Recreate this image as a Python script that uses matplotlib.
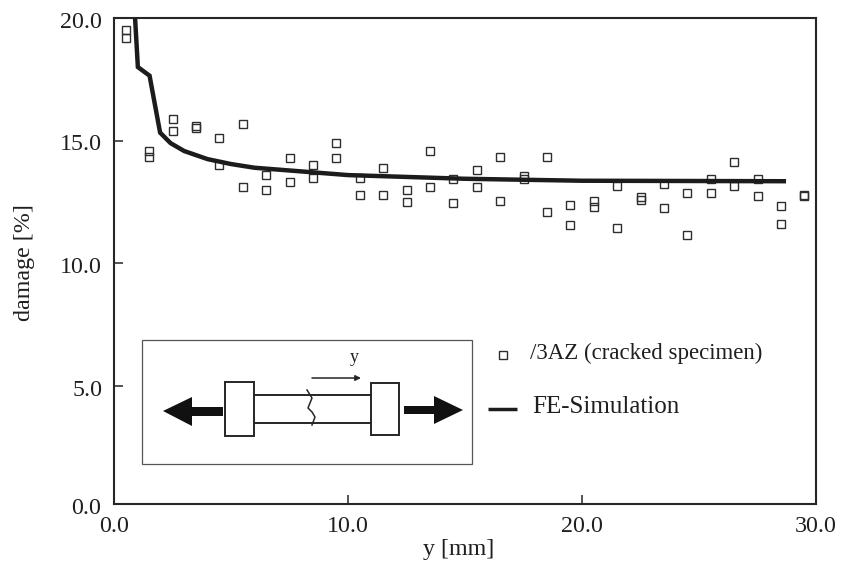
import matplotlib
matplotlib.use('Agg')
import matplotlib.pyplot as plt
from matplotlib.patches import Rectangle, Polygon
from matplotlib.transforms import ScaledTranslation

plt.rcParams['font.family'] = ['Liberation Serif', 'DejaVu Serif']

point_x = [0.5, 0.5, 1.5, 1.5, 2.5, 2.5, 3.5, 3.5, 4.5, 4.5, 5.5, 5.5, 6.5, 6.5, 7.5, 7.5, 8.5, 8.5, 9.5, 9.5,
           10.5, 10.5, 11.5, 11.5, 12.5, 12.5, 13.5, 13.5, 14.5, 14.5, 15.5, 15.5, 16.5, 16.5, 17.5, 17.5,
           18.5, 18.5, 19.5, 19.5, 20.5, 20.5, 21.5, 21.5, 22.5, 22.5, 23.5, 23.5, 24.5, 24.5, 25.5, 25.5,
           26.5, 26.5, 27.5, 27.5, 28.5, 28.5, 29.5, 29.5]
point_y = [19.5, 19.2, 14.6, 14.35, 15.9, 15.4, 15.6, 15.5, 15.1, 14.0, 15.7, 13.1, 13.6, 13.0, 14.3, 13.3, 14.0, 13.5, 14.9, 14.3,
           13.5, 12.8, 13.9, 12.8, 13.0, 12.5, 14.6, 13.1, 13.45, 12.45, 13.8, 13.1, 14.35, 12.55, 13.55, 13.45,
           14.35, 12.1, 12.4, 11.55, 12.55, 12.3, 13.15, 11.45, 12.7, 12.6, 13.25, 12.25, 12.85, 11.15, 13.45, 12.85,
           14.15, 13.15, 13.45, 12.75, 12.35, 11.6, 12.8, 12.75]
sim_x = [0.9, 1.02, 1.52, 1.97, 2.42, 3.0, 4.0, 5.0, 6.0, 8.0, 10.0, 15.0, 20.0, 28.72]
sim_y = [20.0, 18.0, 17.65, 15.33, 14.9, 14.58, 14.25, 14.05, 13.9, 13.75, 13.6, 13.45, 13.37, 13.35]
ticks_x = [0, 10, 20, 30]
ticks_y = [5, 10, 15, 20]

W, H = 842, 562
L, R, T, B = 114, 816, 18, 504
fig = plt.figure(figsize=(W / 100, H / 100), dpi=100)
ax = fig.add_axes([L / W, 1 - B / H, (R - L) / W, (B - T) / H])
ax.set_xlim(0, 30)
ax.set_ylim(0.2, 20)
ink = '#262626'
txt = '#1f1f1f'
ax.plot(sim_x, sim_y, color='#1c1c1c', lw=3.2, solid_joinstyle='miter', solid_capstyle='butt', zorder=3)
ax.plot(point_x, point_y, ls='none', marker='s', ms=6.2, mfc='none', mec='#2e2e2e', mew=1.0, zorder=2)
ax.set_xticks(ticks_x, [f'{t:.1f}' for t in ticks_x])
ax.set_yticks(ticks_y, [f'{t:.1f}' for t in ticks_y])
ax.tick_params(axis='both', direction='in', length=6.5, width=1.1, color=ink, labelsize=17.3, labelcolor=txt)
ax.tick_params(axis='x', pad=9)
ax.tick_params(axis='y', pad=8.5)
for lab in ax.get_yticklabels():
    lab.set_transform(lab.get_transform() + ScaledTranslation(0, -1.5 / 100, fig.dpi_scale_trans))
for s in ax.spines.values():
    s.set_linewidth(1.5)
    s.set_color(ink)
ax.set_xlabel('y [mm]', fontsize=17.3, color=txt)
ax.xaxis.set_label_coords((459 - L) / (R - L), (B - 539) / (B - T))
ax.set_ylabel('damage [%]', fontsize=17.3, color=txt)
ax.yaxis.set_label_coords((35 - L) / (R - L), (B - 263) / (B - T))

# Schematic drawn in pixel coordinates on an overlay
ov = fig.add_axes([0, 0, 1, 1], facecolor='none')
ov.set_xlim(0, W)
ov.set_ylim(H, 0)
ov.axis('off')
ov.text(101.5, 509, '0.0', fontsize=17.3, color=txt, ha='right', va='center')
ov.add_patch(Rectangle((142, 340), 330, 124, fc='white', ec='#555555', lw=0.9))
ov.add_patch(Rectangle((225, 382), 29, 54, fc='white', ec=ink, lw=1.4))
ov.add_patch(Rectangle((371, 383), 28, 52, fc='white', ec=ink, lw=1.4))
ov.plot([254, 371], [394.5, 394.5], color=ink, lw=1.4)
ov.plot([254, 371], [423, 423], color=ink, lw=1.4)
ov.plot([307, 312, 310, 308, 312, 315, 312], [390, 398, 403, 408, 412, 417, 425], color=ink, lw=1.1)
ov.add_patch(Polygon([(163, 411), (192, 397), (192, 407), (223, 407), (223, 416), (192, 416), (192, 426)], fc='#111111', ec='none'))
ov.add_patch(Polygon([(463, 410), (434, 396), (434, 406), (404, 406), (404, 414), (434, 414), (434, 424)], fc='#111111', ec='none'))
ov.annotate('', xy=(361, 378), xytext=(312, 378), arrowprops=dict(arrowstyle='-|>', color=ink, lw=1.1, mutation_scale=8, shrinkA=0, shrinkB=0))
ov.text(354, 357, 'y', fontsize=13, ha='center', va='center', color=txt)

# Legend
ov.plot([502.5], [355], ls='none', marker='s', ms=5.8, mfc='none', mec='#2e2e2e', mew=1.0)
ov.plot([488, 517], [409, 409], color='#1c1c1c', lw=2.5, solid_capstyle='butt')
ov.text(530, 353, '/3AZ (cracked specimen)', fontsize=16.5, va='center', ha='left', color=txt)
ov.text(532, 407, 'FE-Simulation', fontsize=18, va='center', ha='left', color=txt)

fig.savefig('out.png', dpi=100)
